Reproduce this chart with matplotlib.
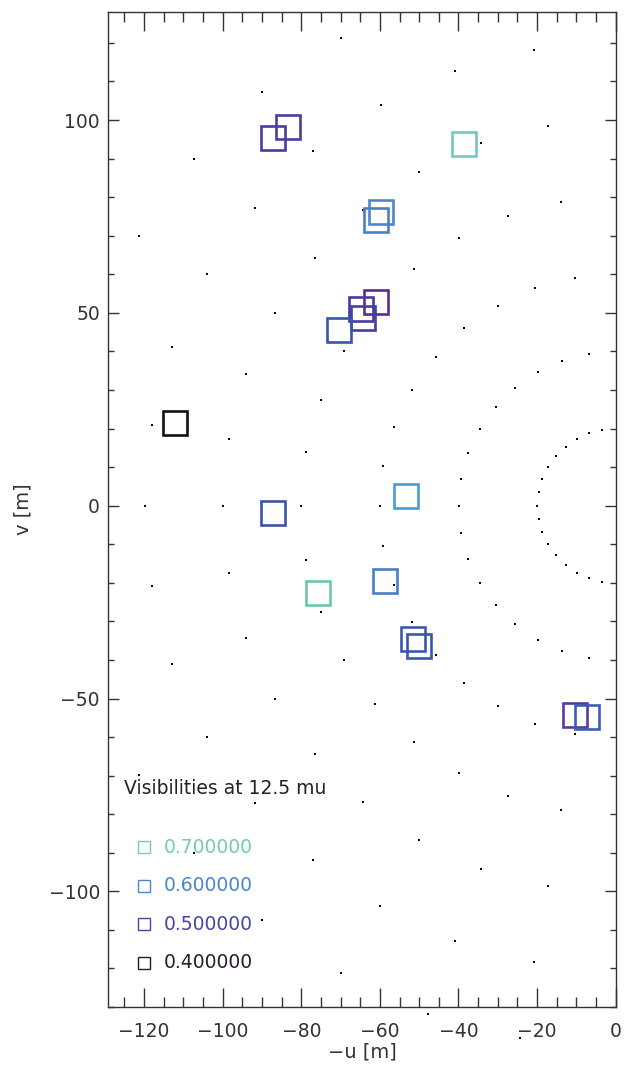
import matplotlib
matplotlib.use('Agg')
import matplotlib.pyplot as plt
from matplotlib.ticker import MultipleLocator

# uv-coverage tracks (small black dots), -u and v in metres
track_u = [-70.0, -89.9, -77.1, -107.2, -91.9, -121.2, -76.6, -103.9, -86.6,
           -20.7, -41.0, -59.8, -17.3, -34.2, -50.0, -13.8, -64.2, -27.3,
           -39.9, -51.4, -10.3, -20.5, -29.9, -61.2, -38.5,
           -112.8, -69.2, -94.0, -75.1, -118.1, -98.4, -78.7,
           -45.8, -51.9, -56.3, -59.1,
           -13.6, -6.9, -19.8, -25.5, -30.5, -34.5, -37.5, -39.3,
           -3.4, -6.7, -9.9, -12.7, -15.2, -17.2, -18.7, -19.6,
           -119.8, -100.0, -80.0, -59.9, -39.9, -19.9,
           -78.7, -98.4, -118.1, -75.1, -94.0, -112.8, -69.2,
           -59.1, -56.3, -51.9, -45.8,
           -39.3, -37.5, -34.5, -30.5, -25.5, -19.8, -13.6, -6.9,
           -19.6, -18.7, -17.2, -15.2, -12.7, -9.9, -6.7, -3.4,
           -86.6, -103.9, -76.6, -121.2, -91.9, -107.2, -77.1, -89.9, -70.0,
           -38.5, -61.2, -29.9, -20.5, -10.3, -51.4, -39.9, -64.2, -27.3,
           -13.8, -50.0, -34.2, -17.3, -59.9, -41.0, -20.7,
           -47.8, -24.3]
track_v = [121.2, 107.2, 91.9, 90.0, 77.2, 69.9, 64.2, 60.1, 49.9,
           118.1, 112.7, 103.9, 98.4, 94.0, 86.5, 78.7, 76.6, 75.2,
           69.4, 61.4, 59.0, 56.4, 51.9, 51.5, 46.0,
           41.1, 40.2, 34.1, 27.4, 20.9, 17.3, 13.9,
           38.5, 30.0, 20.4, 10.3,
           37.5, 39.3, 34.7, 30.5, 25.7, 19.9, 13.7, 6.9,
           19.6, 18.8, 17.3, 15.2, 12.9, 10.0, 6.9, 3.6,
           0.0, 0.0, 0.0, 0.0, 0.0, 0.0,
           -14.0, -17.4, -20.8, -27.5, -34.3, -41.0, -40.0,
           -10.4, -20.5, -30.1, -38.7,
           -7.1, -13.8, -20.0, -25.7, -30.7, -34.8, -37.6, -39.5,
           -3.4, -6.8, -10.0, -12.9, -15.3, -17.4, -18.7, -19.8,
           -50.0, -60.1, -64.4, -69.9, -77.2, -90.0, -92.0, -107.3, -121.3,
           -46.0, -51.4, -51.9, -56.5, -59.1, -61.2, -69.3, -76.8, -75.2,
           -78.9, -86.7, -94.1, -98.6, -103.9, -112.8, -118.2,
           -131.8, -137.9]

# measured visibilities (open squares), colour = visibility
vis_u = [-87.3, -83.4, -38.6, -59.7, -61.0, -61.0, -64.9, -64.3, -70.4,
         -112.1, -87.2, -53.4, -75.7, -58.8, -51.5, -50.0, -10.3, -7.4]
vis_v = [95.3, 98.2, 93.7, 76.2, 74.1, 52.9, 50.9, 48.7, 45.6,
         21.4, -1.8, 2.6, -22.6, -19.4, -34.6, -36.3, -54.4, -54.8]
vis_colors = ['#4b3d9c', '#4a3ea0', '#6fcac4', '#4a86cc', '#4a7fc6',
              '#5a2e91', '#4b3a9c', '#433fa0', '#3a55a8',
              '#161014', '#3b55a5', '#4a9bd8', '#6dc8a8', '#4a7ec4',
              '#3b5aae', '#3a55aa', '#5a38a0', '#3e5cb2']

legend_values = ['0.700000', '0.600000', '0.500000', '0.400000']
legend_colors = ['#72cda9', '#4a85c9', '#4647a3', '#2b1a2e']

fig = plt.figure(figsize=(6.24, 10.66), dpi=100)
ax = fig.add_axes([0.1736, 0.0553, 0.8130, 0.9334])

ax.plot(track_u, track_v, 's', ms=1.6, mew=0, color='black', clip_on=False)

for u, v, c in zip(vis_u, vis_v, vis_colors):
    ax.plot(u, v, 's', ms=17, mfc='none', mec=c, mew=1.9, zorder=3)

# legend, IDL style
ax.text(-125.1, -73.4, 'Visibilities at 12.5 mu', fontsize=13.5,
        color='#222222', ha='left', va='center')
for i, (lab, c) in enumerate(zip(legend_values, legend_colors)):
    yy = -88.5 - 10.0 * i
    ax.plot(-119.9, yy, 's', ms=8.5, mfc='none', mec=c, mew=1.0)
    ax.text(-115.1, yy, lab, fontsize=13.5, color=c, ha='left', va='center')

ax.set_xlim(-129.1, 0)
ax.set_ylim(-130, 128)

ax.xaxis.set_major_locator(MultipleLocator(20))
ax.xaxis.set_minor_locator(MultipleLocator(5))
ax.yaxis.set_major_locator(MultipleLocator(50))
ax.yaxis.set_minor_locator(MultipleLocator(10))

ax.tick_params(which='both', direction='in', top=True, right=True,
               color='#333333', width=1.0, labelcolor='#333333', labelsize=13.5)
ax.tick_params(axis='x', which='major', length=14, pad=11)
ax.tick_params(axis='x', which='minor', length=7)
ax.tick_params(axis='y', which='major', length=8, pad=6)
ax.tick_params(axis='y', which='minor', length=4)

for s in ax.spines.values():
    s.set_color('#333333')
    s.set_linewidth(1.0)

ax.set_xlabel('\u2212u [m]', fontsize=14, color='#333333')
ax.xaxis.set_label_coords(0.5, -0.045)
ax.xaxis.label.set_va('center')
ax.set_ylabel('v [m]', fontsize=14, color='#333333')
ax.yaxis.set_label_coords(-0.169, 0.5)
ax.yaxis.label.set_va('center')

fig.savefig('out.png', dpi=100)
